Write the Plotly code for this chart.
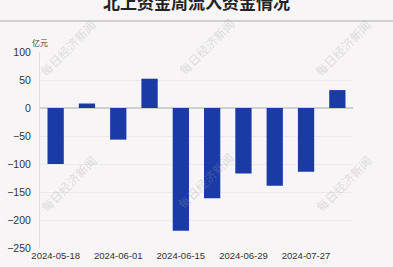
import plotly.graph_objects as go

weeks = ["2024-05-18", "2024-05-25", "2024-06-01", "2024-06-08", "2024-06-15",
         "2024-06-22", "2024-06-29", "2024-07-20", "2024-07-27", "2024-08-03"]
inflow = [-100, 8, -56.5, 52.3, -219, -161, -117, -139, -114, 32]
tick_labels = ["2024-05-18", "2024-06-01", "2024-06-15", "2024-06-29", "2024-07-27"]
y_ticks = [100, 50, 0, -50, -100, -150, -200, -250]

title = "北上资金周流入资金情况"
unit = "亿元"
watermark = "每日经济新闻"

W, H = 393, 267
ml, mr, mt, mb = 40, 40, 52, 19
pw = W - ml - mr
ph = H - mt - mb

def px_x(x):
    return (x - ml) / pw

def px_y(y):
    return (H - mb - y) / ph

bg = "#f7f5f5"
font = "Noto Sans CJK SC"

fig = go.Figure()
fig.add_trace(go.Bar(x=weeks, y=inflow, marker=dict(color="#1a3aa6", line=dict(width=0)),
                     width=0.52))

annotations = [
    dict(text="<b>" + title + "</b>", x=0.5, y=px_y(1), xref="paper", yref="paper",
         showarrow=False, font=dict(size=17, color="#222", family=font),
         xanchor="center", yanchor="middle"),
    dict(text=unit, x=px_x(40), y=px_y(42), xref="paper", yref="paper",
         showarrow=False, font=dict(size=8, color="#444", family=font),
         xanchor="center", yanchor="middle"),
]
for cx, cy in [(68, 48), (206, 46), (343, 48), (68, 183), (205, 180), (343, 183)]:
    annotations.append(dict(text=watermark, x=px_x(cx), y=px_y(cy), xref="paper", yref="paper",
                            showarrow=False, textangle=-45,
                            font=dict(size=12, color="rgba(160,160,160,0.32)", family=font),
                            xanchor="center", yanchor="middle"))

fig.update_layout(
    width=W, height=H,
    margin=dict(l=ml, r=mr, t=mt, b=mb),
    paper_bgcolor=bg, plot_bgcolor=bg,
    showlegend=False,
    font=dict(family=font, size=10, color="#333"),
    annotations=annotations,
    shapes=[dict(type="line", xref="paper", yref="paper",
                 x0=px_x(0), x1=px_x(W), y0=px_y(21), y1=px_y(21),
                 line=dict(color="#d0d0d0", width=2))],
    xaxis=dict(type="category", categoryorder="array", categoryarray=weeks,
               range=[-0.5, len(weeks) - 0.5], automargin=False,
               tickmode="array", tickvals=tick_labels, ticktext=tick_labels,
               showgrid=False, showline=False, ticks="",
               tickfont=dict(size=9.5, color="#333", family="Liberation Sans")),
    yaxis=dict(range=[-250, 100], tickmode="array", tickvals=y_ticks, automargin=False,
               showgrid=True, gridcolor="#ebe9e9", gridwidth=1,
               zeroline=True, zerolinecolor="#cfcfcf", zerolinewidth=1.5,
               showline=True, linecolor="#e0dede", linewidth=1,
               ticks="", ticklabelstandoff=6,
               tickfont=dict(size=10.5, color="#333", family="Liberation Sans")),
)

fig.write_html("out.html")
